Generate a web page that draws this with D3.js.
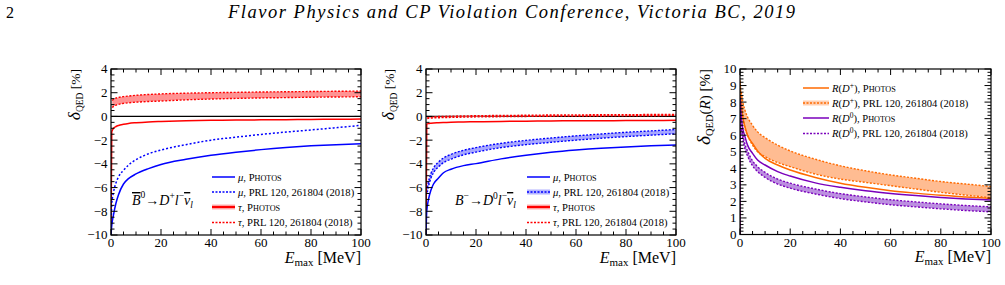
<!DOCTYPE html>
<html><head><meta charset="utf-8">
<script src="https://cdn.jsdelivr.net/npm/d3@7"></script>
</head><body style="margin:0;background:#fff">
<svg id="c" width="1005" height="285"></svg>
<script>
// ---------- data ----------
const E = [0, 0.3, 1, 2, 3, 5, 7, 10, 15, 20, 30, 40, 50, 60, 70, 80, 90, 100];
const EBand = [0.5, 1, 2, 3, 5, 7, 10, 15, 20, 30, 40, 50, 60, 70, 80, 90, 100];
const E3 = [0, 0.05, 0.3, 1, 2, 3, 5, 7, 10, 15, 20, 30, 40, 50, 60, 70, 80, 90, 100];

// panel 1: B0bar -> D+ l nu
const p1MuPhotos = [-10, -9.2, -8.3, -7.3, -6.6, -5.7, -5.25, -4.85, -4.4, -4.05, -3.62, -3.28, -3.02, -2.8, -2.62, -2.48, -2.38, -2.3];
const p1MuPRL    = [-10, -7.4, -6.4, -5.6, -5.1, -4.55, -4.1, -3.65, -3.15, -2.83, -2.38, -2.0, -1.75, -1.52, -1.32, -1.14, -0.95, -0.75];
const p1TauPhotos = [-10, -1.3, -1.0, -0.85, -0.76, -0.66, -0.59, -0.53, -0.46, -0.42, -0.36, -0.33, -0.31, -0.29, -0.27, -0.25, -0.24, -0.22];
const p1TauPRLHi = [1.35, 1.45, 1.55, 1.6, 1.67, 1.72, 1.78, 1.85, 1.9, 1.96, 2.0, 2.03, 2.06, 2.08, 2.1, 2.12, 2.14];
const p1TauPRLLo = [0.75, 0.85, 0.95, 1.02, 1.1, 1.15, 1.2, 1.26, 1.3, 1.4, 1.47, 1.52, 1.56, 1.59, 1.62, 1.64, 1.66];

// panel 2: B- -> D0 l nu
const p2MuPhotos = [-10, -8.0, -7.0, -6.2, -5.7, -5.2, -4.75, -4.45, -4.15, -3.98, -3.58, -3.27, -3.02, -2.83, -2.68, -2.57, -2.48, -2.4];
const p2MuPRLHi = [-6.0, -5.5, -4.8, -4.35, -3.85, -3.5, -3.2, -2.86, -2.63, -2.27, -2.02, -1.82, -1.64, -1.48, -1.34, -1.22, -1.1];
const p2MuPRLLo = [-6.4, -5.9, -5.2, -4.75, -4.25, -3.9, -3.6, -3.24, -3.01, -2.63, -2.38, -2.18, -2.0, -1.84, -1.7, -1.58, -1.46];
const p2TauPhotos = [-10, -0.65, -0.6, -0.57, -0.55, -0.53, -0.51, -0.49, -0.47, -0.45, -0.42, -0.4, -0.38, -0.37, -0.36, -0.35, -0.34, -0.33];
const p2TauPRLHi = [-0.08, -0.06, -0.04, -0.03, -0.01, 0.0, 0.02, 0.04, 0.06, 0.08, 0.1, 0.12, 0.13, 0.14, 0.15, 0.16, 0.17];
const p2TauPRLLo = [-0.18, -0.16, -0.14, -0.13, -0.11, -0.1, -0.08, -0.06, -0.04, -0.02, 0.0, 0.02, 0.03, 0.04, 0.05, 0.06, 0.07];

// panel 3: ratios
const p3DpPhotos = [0, 9.3, 8.3, 7.2, 6.5, 6.0, 5.5, 5.05, 4.6, 4.2, 3.9, 3.45, 3.1, 2.85, 2.65, 2.5, 2.37, 2.27, 2.18];
const p3D0Photos = [0, 8.3, 7.5, 6.5, 5.9, 5.4, 4.9, 4.5, 4.2, 3.8, 3.53, 3.12, 2.85, 2.64, 2.48, 2.35, 2.24, 2.15, 2.08];
const p3DpPRLHi = [8.6, 8.1, 7.5, 7.1, 6.6, 6.2, 5.85, 5.4, 5.05, 4.55, 4.15, 3.85, 3.6, 3.4, 3.2, 3.05, 2.9];
const p3DpPRLLo = [7.9, 7.3, 6.4, 6.0, 5.4, 5.0, 4.7, 4.35, 4.1, 3.65, 3.35, 3.15, 2.95, 2.75, 2.55, 2.38, 2.22];
const p3D0PRLHi = [6.65, 6.15, 5.45, 5.05, 4.45, 4.1, 3.75, 3.35, 3.1, 2.75, 2.47, 2.27, 2.1, 1.97, 1.85, 1.75, 1.67];
const p3D0PRLLo = [6.35, 5.85, 5.15, 4.75, 4.15, 3.8, 3.45, 3.05, 2.8, 2.45, 2.17, 1.97, 1.8, 1.67, 1.55, 1.45, 1.37];

const xTicks = [0, 20, 40, 60, 80, 100];
const yTicks12 = [-10, -8, -6, -4, -2, 0, 2, 4];
const yTicks3 = [0, 1, 2, 3, 4, 5, 6, 7, 8, 9, 10];
const legend12 = ["μ, Photos", "μ, PRL 120, 261804 (2018)", "τ, Photos", "τ, PRL 120, 261804 (2018)"];
const legend3 = ["R(D⁺), Photos", "R(D⁺), PRL 120, 261804 (2018)", "R(D⁰), Photos", "R(D⁰), PRL 120, 261804 (2018)"];

// ---------- drawing ----------
const svg = d3.select("#c");
svg.append("rect").attr("width",1005).attr("height",285).attr("fill","#fff");
function T(parent){ return parent.append("text").style("font-family",'"Liberation Serif"'); }

T(svg).attr("x",6).attr("y",18).attr("font-size",16).text("2");
T(svg).attr("x",228).attr("y",18).attr("font-size",18.5).style("font-style","italic")
  .attr("textLength",567).attr("lengthAdjust","spacing")
  .text("Flavor Physics and CP Violation Conference, Victoria BC, 2019");

const BLUE="#0000ff", RED="#ff0000", ORANGE="#ff6a00", PURPLE="#7a00bb";

function panel(o){
  const g = svg.append("g");
  const x = d3.scaleLinear().domain([0,100]).range([o.left,o.right]);
  const y = d3.scaleLinear().domain(o.ydom).range([o.bottom,o.top]);
  const clip = "clip"+o.id;
  g.append("clipPath").attr("id",clip).append("rect")
    .attr("x",o.left).attr("y",o.top).attr("width",o.right-o.left).attr("height",o.bottom-o.top);
  const plot = g.append("g").attr("clip-path",`url(#${clip})`);
  const line = d3.line().x(d=>x(d[0])).y(d=>y(d[1])).curve(d3.curveMonotoneX);
  const area = d3.area().x(d=>x(d[0])).y0(d=>y(d[1])).y1(d=>y(d[2])).curve(d3.curveMonotoneX);

  if (o.zeroLine) plot.append("line").attr("x1",o.left).attr("x2",o.right)
      .attr("y1",y(0)).attr("y2",y(0)).attr("stroke","#000").attr("stroke-width",1.3);

  o.bands.forEach(b=>{
    const pts = b.xs.map((v,i)=>[v,b.lo[i],b.hi[i]]);
    plot.append("path").attr("d",area(pts)).attr("fill",b.fill).attr("opacity",b.op||0.75);
    [b.lo,b.hi].forEach(arr=>{
      plot.append("path").attr("d",line(b.xs.map((v,i)=>[v,arr[i]])))
        .attr("fill","none").attr("stroke",b.color).attr("stroke-width",1.4).attr("stroke-dasharray","2,1.6");
    });
  });
  o.lines.forEach(l=>{
    plot.append("path").attr("d",line(l.xs.map((v,i)=>[v,l.ys[i]])))
      .attr("fill","none").attr("stroke",l.color).attr("stroke-width",l.w||1.5)
      .attr("stroke-dasharray",l.dash||null);
  });

  // axes: ROOT style ticks inside, all four sides
  const ax = g.append("g").attr("stroke","#000").attr("stroke-width",1);
  const xMinor = d3.range(0,100.01,5);
  xMinor.forEach(v=>{
    const L = xTicks.includes(v)?6:3.5;
    ax.append("line").attr("x1",x(v)).attr("x2",x(v)).attr("y1",o.bottom).attr("y2",o.bottom-L);
    ax.append("line").attr("x1",x(v)).attr("x2",x(v)).attr("y1",o.top).attr("y2",o.top+L);
  });
  const yMinor = d3.range(o.ydom[0],o.ydom[1]+1e-6,o.yminor);
  yMinor.forEach(v=>{
    const L = o.yticks.some(t=>Math.abs(t-v)<1e-6)?6.5:3.5;
    ax.append("line").attr("y1",y(v)).attr("y2",y(v)).attr("x1",o.left).attr("x2",o.left+L);
    ax.append("line").attr("y1",y(v)).attr("y2",y(v)).attr("x1",o.right).attr("x2",o.right-L);
  });
  g.append("rect").attr("x",o.left).attr("y",o.top).attr("width",o.right-o.left).attr("height",o.bottom-o.top)
    .attr("fill","none").attr("stroke","#000").attr("stroke-width",1.2);

  const fmt = v => v<0 ? "−"+Math.abs(v) : String(v);
  xTicks.forEach(v=>T(g).attr("x",x(v)).attr("y",o.bottom+12).attr("text-anchor","middle")
    .attr("font-size",13).text(v));
  o.yticks.forEach(v=>T(g).attr("x",o.left-3.5).attr("y",y(v)+4.4).attr("text-anchor","end")
    .attr("font-size",13).text(fmt(v)));

  // x title
  const xt = T(g).attr("x",o.right).attr("y",o.bottom+27.5).attr("text-anchor","end").attr("font-size",16);
  xt.append("tspan").style("font-style","italic").text("E");
  xt.append("tspan").attr("font-size",11).attr("dy",3).text("max");
  xt.append("tspan").attr("dy",-3).text(" [MeV]");
  // y title
  const yt = T(g).attr("transform",`translate(${o.left-o.ytOff},${o.top}) rotate(-90)`)
    .attr("text-anchor","end").attr("font-size",o.ytSize);
  yt.append("tspan").style("font-style","italic").attr("font-size",o.ytSize*1.3).text("δ");
  yt.append("tspan").attr("font-size",o.ytSize*0.7).attr("dy",3).text("QED");
  if (o.ratio){ yt.append("tspan").attr("dy",-3).text("(");
    yt.append("tspan").style("font-style","italic").text("R"); yt.append("tspan").text(") [%]"); }
  else yt.append("tspan").attr("dy",-3).text(" [%]");

  // legend
  o.legend.forEach((lab,i)=>{
    const s = o.legStyle[i], yy = o.legY[i];
    if (s.band){
      g.append("rect").attr("x",o.legX).attr("y",yy-2.5).attr("width",o.legW).attr("height",5).attr("fill",s.band).attr("opacity",0.75);
    }
    g.append("line").attr("x1",o.legX).attr("x2",o.legX+o.legW).attr("y1",yy).attr("y2",yy)
      .attr("stroke",s.color).attr("stroke-width",s.w||1.5).attr("stroke-dasharray",s.dash||null);
    const t = T(g).attr("x",o.legX+o.legW+3).attr("y",yy+3.8).attr("font-size",10.6);
    const parts = lab.split(", ");
    const head = parts[0], rest = parts.slice(1).join(", ");
    if (head.startsWith("R(")){
      t.append("tspan").style("font-style","italic").text("R");
      t.append("tspan").text("(");
      t.append("tspan").style("font-style","italic").text("D");
      t.append("tspan").attr("font-size",7.5).attr("dy",-4).text(head.includes("⁺")?"+":"0");
      t.append("tspan").attr("dy",4).text("), ");
    } else {
      t.append("tspan").style("font-style","italic").text(head);
      t.append("tspan").text(", ");
    }
    if (rest==="Photos"){
      t.append("tspan").text("P"); t.append("tspan").attr("font-size",8.2).text("HOTOS");
    } else t.append("tspan").text(rest);
  });

  // decay label
  if (o.decay){
    const d = T(g).attr("x",o.decay.x).attr("y",o.decay.y).attr("font-size",14).style("font-style","italic");
    o.decay.parts.forEach(p=>{
      const ts = d.append("tspan").text(p.t);
      if (p.sup || p.sub) ts.attr("font-size",9.5);
      if (p.dy) ts.attr("dy",p.dy);
      if (p.up) ts.style("font-style","normal");
      if (p.over) ts.attr("text-decoration","overline");
    });
  }
}

panel({id:1,left:111,right:361,top:69,bottom:235,ydom:[-10,4],yticks:yTicks12,yminor:0.5,zeroLine:true,ytOff:31,ytSize:13.5,
  bands:[{xs:EBand,lo:p1TauPRLLo,hi:p1TauPRLHi,fill:"#ff6f6f",color:RED}],
  lines:[{xs:E,ys:p1TauPhotos,color:RED},{xs:E,ys:p1MuPRL,color:BLUE,dash:"2,2"},{xs:E,ys:p1MuPhotos,color:BLUE}],
  legend:legend12, legX:212, legW:23, legY:[177,192,207,222.5],
  legStyle:[{color:BLUE},{color:BLUE,dash:"2,1.5"},{color:RED,w:2.2,band:"#ff9a9a"},{color:RED,dash:"2,1.5"}],
  decay:{x:132,y:205,parts:[{t:"B",over:true},{t:"0",sup:true,dy:-7,up:true},{t:"→",dy:7,up:true},{t:"D"},{t:"+",sup:true,dy:-6,up:true},{t:"l",dy:6},{t:"−",sup:true,dy:-6,up:true},{t:"ν",dy:6,over:true},{t:"l",sub:true,dy:3}]}
});
panel({id:2,left:426,right:676,top:69,bottom:235,ydom:[-10,4],yticks:yTicks12,yminor:0.5,zeroLine:true,ytOff:32,ytSize:13.5,
  bands:[{xs:EBand,lo:p2MuPRLLo,hi:p2MuPRLHi,fill:"#8a8aff",color:BLUE},{xs:EBand,lo:p2TauPRLLo,hi:p2TauPRLHi,fill:"#ff8a8a",color:RED}],
  lines:[{xs:E,ys:p2TauPhotos,color:RED},{xs:E,ys:p2MuPhotos,color:BLUE}],
  legend:legend12, legX:527, legW:23, legY:[177,192,207,222.5],
  legStyle:[{color:BLUE},{color:BLUE,dash:"2,1.5",band:"#9a9aff"},{color:RED,w:2.2,band:"#ff9a9a"},{color:RED,dash:"2,1.5"}],
  decay:{x:455,y:205,parts:[{t:"B"},{t:"−",sup:true,dy:-6,up:true},{t:"→",dy:6,up:true},{t:"D"},{t:"0",sup:true,dy:-6,up:true},{t:"l",dy:6},{t:"−",sup:true,dy:-6,up:true},{t:"ν",dy:6,over:true},{t:"l",sub:true,dy:3}]}
});
panel({id:3,left:740,right:991,top:69,bottom:234.5,ydom:[0,10],yticks:yTicks3,yminor:0.2,zeroLine:false,ytOff:30,ytSize:15,ratio:true,
  bands:[{xs:EBand,lo:p3DpPRLLo,hi:p3DpPRLHi,fill:"#ffa56e",color:ORANGE},{xs:EBand,lo:p3D0PRLLo,hi:p3D0PRLHi,fill:"#a66ad6",color:PURPLE}],
  lines:[{xs:E3,ys:p3DpPhotos,color:ORANGE},{xs:E3,ys:p3D0Photos,color:PURPLE}],
  legend:legend3, legX:803, legW:26, legY:[88,103,118,133.5],
  legStyle:[{color:ORANGE},{color:ORANGE,dash:"2,1.5",band:"#ffc09a"},{color:PURPLE},{color:PURPLE,dash:"2,1.5"}]
});
</script></body></html>
